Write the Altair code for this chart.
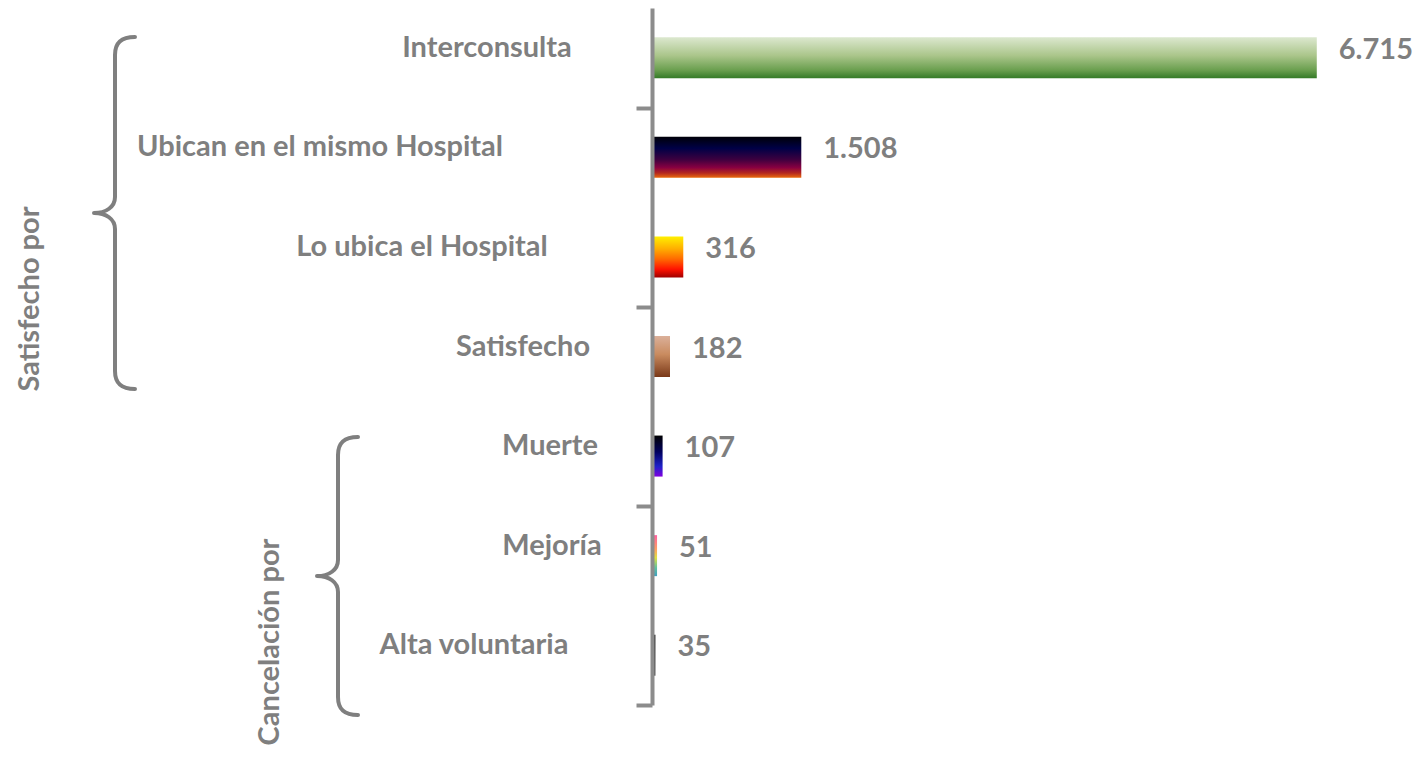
import altair as alt
import pandas as pd

# ---------------- data ----------------
CATEGORIES = [
    "Interconsulta",
    "Ubican en el mismo Hospital",
    "Lo ubica el Hospital",
    "Satisfecho",
    "Muerte",
    "Mejoría",
    "Alta voluntaria",
]
VALUES = [6715, 1508, 316, 182, 107, 51, 35]
GROUPS = ["Satisfecho por", "Cancelación por"]

# ---------------- style ----------------
GREY = "#7f7f7f"
AXIS_GREY = "#8c8c8c"
FONT = "Lato"
FS = 29
W, H = 693, 697
XMAX = 7000

GRADIENTS = {
    "Interconsulta": [(0, "#dce8cf"), (0.45, "#aac58a"), (0.8, "#6a9f4f"), (1, "#347a27")],
    "Ubican en el mismo Hospital": [(0, "#000008"), (0.28, "#000046"), (0.55, "#3c003f"),
                                    (0.75, "#880041"), (0.88, "#b3261f"), (1, "#ea6a0c")],
    "Lo ubica el Hospital": [(0, "#fff000"), (0.3, "#ffae00"), (0.55, "#ff6a00"),
                             (0.8, "#ff1200"), (1, "#a00000")],
    "Satisfecho": [(0, "#dbb09a"), (0.45, "#c98b5f"), (1, "#7a3818")],
    "Muerte": [(0, "#000000"), (0.4, "#00005e"), (0.75, "#1e22c8"), (1, "#8000e0")],
    "Mejoría": [(0, "#ff5fa0"), (0.35, "#ffa060"), (0.55, "#e0e040"), (0.8, "#60c0a0"), (1, "#40a0c0")],
    "Alta voluntaria": [(0, "#2a2a2a"), (1, "#555555")],
}
# horizontal centre of each category label, px from the value axis
LABEL_CENTER_PX = [-165, -332, -230, -129, -102, -100, -178]
# group titles (x, y) and braces (x, y, height), px in plot coordinates
GROUP_TITLE_POS = [(-622, 291), (-382, 634)]
BRACE_POS = [(-537, 205, 352), (-314, 568, 278)]


def brace_path(height):
    h = height / 2.0
    pts = [
        ("M", 20, -h), ("C", 6, -h), ("", 0, -h + 6), ("", 0, -h + 18),
        ("L", 0, -16),
        ("C", 0, -6), ("", -9, 0), ("", -21, 0),
        ("C", -9, 0), ("", 0, 6), ("", 0, 16),
        ("L", 0, h - 18),
        ("C", 0, h - 6), ("", 6, h), ("", 20, h),
    ]
    parts = []
    for cmd, x, y in pts:
        parts.append(f"{cmd}{x / h:.4f},{y / h:.4f}" if cmd else f"{x / h:.4f},{y / h:.4f}")
    return " ".join(parts)


df = pd.DataFrame({"categoria": CATEGORIES, "valor": VALUES, "lx": LABEL_CENTER_PX})
base = alt.Chart(df)

yband = alt.Y(
    "categoria:N",
    scale=alt.Scale(domain=CATEGORIES, paddingInner=0, paddingOuter=0),
    axis=None,
)
xq = alt.X("valor:Q", scale=alt.Scale(domain=[0, XMAX], nice=False, zero=True), axis=None)

layers = []
for cat in CATEGORIES:
    grad = alt.LinearGradient(
        gradient="linear",
        stops=[alt.GradientStop(color=c, offset=o) for o, c in GRADIENTS[cat]],
        x1=0, x2=0, y1=0, y2=1,
    )
    layers.append(
        base.transform_filter(alt.datum.categoria == cat)
        .mark_bar(color=grad, size=41)
        .encode(x=xq, y=yband)
    )

values = (
    base.transform_calculate(lbl="replace(format(datum.valor, ','), ',', '.')")
    .mark_text(align="left", baseline="middle", dx=22, dy=-8, font=FONT,
               fontSize=FS, fontWeight="bold", color=GREY)
    .encode(x=xq, y=yband, text="lbl:N")
)

labels = (
    base.mark_text(align="center", baseline="middle", dy=-10, font=FONT,
                   fontSize=FS, fontWeight="bold", color=GREY)
    .encode(x=alt.X("lx:Q", scale=None, axis=None), y=yband, text="categoria:N")
)

n = len(CATEGORIES)
axis_layer = (
    alt.Chart(pd.DataFrame({"pos": [0, n]}))
    .mark_point(opacity=0)
    .encode(
        y=alt.Y(
            "pos:Q",
            scale=alt.Scale(domain=[0, n], reverse=True, nice=False, zero=False),
            axis=alt.Axis(
                values=list(range(1, n + 1, 2)), labels=False, title=None, grid=False,
                tickSize=16, tickWidth=4, tickColor=AXIS_GREY,
                domainColor=AXIS_GREY, domainWidth=4, zindex=1,
            ),
        )
    )
)

extra = []
for g, (bx, by, bh), (tx, ty) in zip(GROUPS, BRACE_POS, GROUP_TITLE_POS):
    gdf = pd.DataFrame({"grupo": [g]})
    extra.append(
        alt.Chart(gdf)
        .mark_point(shape=brace_path(bh), size=bh * bh, filled=False, stroke=GREY,
                    strokeWidth=4, opacity=1, strokeCap="round", strokeJoin="round")
        .encode(x=alt.value(bx), y=alt.value(by))
    )
    extra.append(
        alt.Chart(gdf)
        .mark_text(angle=270, align="center", baseline="middle", font=FONT,
                   fontSize=FS, fontWeight="bold", color=GREY)
        .encode(x=alt.value(tx), y=alt.value(ty), text="grupo:N")
    )

chart = (
    alt.layer(*layers, values, labels, axis_layer, *extra)
    .resolve_scale(x="independent", y="independent")
    .properties(
        width=W,
        height=H,
        padding={"left": 644, "top": 0, "right": 75, "bottom": 44},
        autosize=alt.AutoSizeParams(type="none"),
        background="white",
    )
    .configure_view(stroke=None)
)

chart.save("out.html", embed_options={"renderer": "svg", "actions": False})
